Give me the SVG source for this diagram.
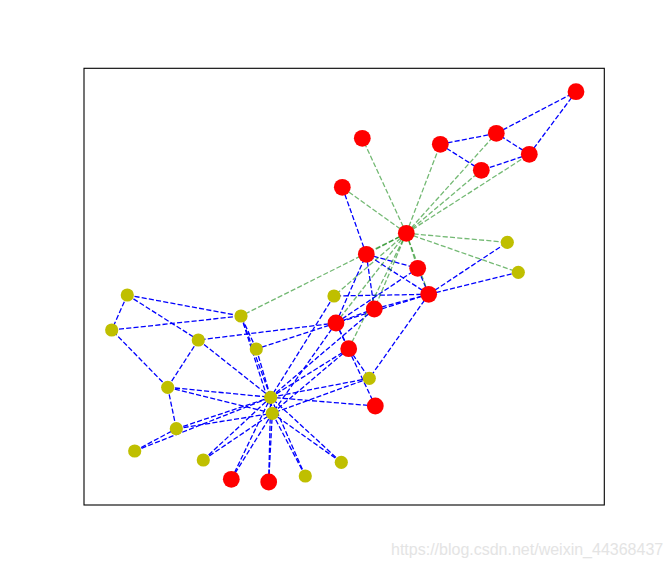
<svg xmlns="http://www.w3.org/2000/svg" width="671" height="567" viewBox="0 0 671 567">
<style>
.b{stroke:#0000ff;stroke-width:1.3;stroke-dasharray:5.1 2.2;fill:none}
.g{stroke:#008000;stroke-opacity:0.55;stroke-width:1.3;stroke-dasharray:5.1 2.2;fill:none}
.r{fill:#ff0000}
.y{fill:#bfbf00}
.wm{font-family:"Liberation Sans",Arial,sans-serif;font-size:16px;fill:#e4e4e4}
</style>
<rect x="0" y="0" width="671" height="567" fill="#ffffff"/>
<rect x="84" y="68.3" width="520.3" height="436.7" fill="none" stroke="#000000" stroke-width="1.1"/>
<g id="edges">
<g id="blue-edges">
<line class="b" x1="428.7" y1="294.3" x2="336" y2="323"/>
<line class="b" x1="428.7" y1="294.3" x2="366.3" y2="254.3"/>
<line class="b" x1="428.7" y1="294.3" x2="417.7" y2="268.3"/>
<line class="b" x1="428.7" y1="294.3" x2="374.3" y2="309"/>
<line class="b" x1="428.7" y1="294.3" x2="507.3" y2="242.3"/>
<line class="b" x1="428.7" y1="294.3" x2="334" y2="296"/>
<line class="b" x1="428.7" y1="294.3" x2="518.3" y2="272.3"/>
<line class="b" x1="428.7" y1="294.3" x2="369.3" y2="378.3"/>
<line class="b" x1="336" y1="323" x2="366.3" y2="254.3"/>
<line class="b" x1="336" y1="323" x2="417.7" y2="268.3"/>
<line class="b" x1="336" y1="323" x2="348.7" y2="348.7"/>
<line class="b" x1="336" y1="323" x2="375.3" y2="406"/>
<line class="b" x1="336" y1="323" x2="374.3" y2="309"/>
<line class="b" x1="336" y1="323" x2="198.3" y2="340"/>
<line class="b" x1="336" y1="323" x2="256.3" y2="349"/>
<line class="b" x1="336" y1="323" x2="272.3" y2="413.3"/>
<line class="b" x1="366.3" y1="254.3" x2="417.7" y2="268.3"/>
<line class="b" x1="366.3" y1="254.3" x2="342.3" y2="187.3"/>
<line class="b" x1="366.3" y1="254.3" x2="374.3" y2="309"/>
<line class="b" x1="440.3" y1="144.3" x2="496.3" y2="133.3"/>
<line class="b" x1="440.3" y1="144.3" x2="481.3" y2="170.3"/>
<line class="b" x1="529.3" y1="154.3" x2="496.3" y2="133.3"/>
<line class="b" x1="529.3" y1="154.3" x2="481.3" y2="170.3"/>
<line class="b" x1="529.3" y1="154.3" x2="576" y2="91.7"/>
<line class="b" x1="496.3" y1="133.3" x2="576" y2="91.7"/>
<line class="b" x1="348.7" y1="348.7" x2="369.3" y2="378.3"/>
<line class="b" x1="348.7" y1="348.7" x2="272.3" y2="413.3"/>
<line class="b" x1="348.7" y1="348.7" x2="270.7" y2="397.3"/>
<line class="b" x1="375.3" y1="406" x2="270.7" y2="397.3"/>
<line class="b" x1="374.3" y1="309" x2="270.7" y2="397.3"/>
<line class="b" x1="231.3" y1="479.3" x2="272.3" y2="413.3"/>
<line class="b" x1="231.3" y1="479.3" x2="270.7" y2="397.3"/>
<line class="b" x1="268.7" y1="482" x2="272.3" y2="413.3"/>
<line class="b" x1="268.7" y1="482" x2="270.7" y2="397.3"/>
<line class="b" x1="203.3" y1="460" x2="272.3" y2="413.3"/>
<line class="b" x1="203.3" y1="460" x2="270.7" y2="397.3"/>
<line class="b" x1="334" y1="296" x2="270.7" y2="397.3"/>
<line class="b" x1="341.3" y1="462.3" x2="272.3" y2="413.3"/>
<line class="b" x1="341.3" y1="462.3" x2="270.7" y2="397.3"/>
<line class="b" x1="305.3" y1="476" x2="272.3" y2="413.3"/>
<line class="b" x1="305.3" y1="476" x2="270.7" y2="397.3"/>
<line class="b" x1="167.7" y1="387.3" x2="111.7" y2="330"/>
<line class="b" x1="167.7" y1="387.3" x2="198.3" y2="340"/>
<line class="b" x1="167.7" y1="387.3" x2="176.3" y2="428.7"/>
<line class="b" x1="167.7" y1="387.3" x2="272.3" y2="413.3"/>
<line class="b" x1="167.7" y1="387.3" x2="270.7" y2="397.3"/>
<line class="b" x1="127.3" y1="295" x2="111.7" y2="330"/>
<line class="b" x1="127.3" y1="295" x2="198.3" y2="340"/>
<line class="b" x1="127.3" y1="295" x2="241" y2="316"/>
<line class="b" x1="111.7" y1="330" x2="241" y2="316"/>
<line class="b" x1="134.7" y1="451" x2="176.3" y2="428.7"/>
<line class="b" x1="134.7" y1="451" x2="270.7" y2="397.3"/>
<line class="b" x1="198.3" y1="340" x2="270.7" y2="397.3"/>
<line class="b" x1="256.3" y1="349" x2="241" y2="316"/>
<line class="b" x1="256.3" y1="349" x2="270.7" y2="397.3"/>
<line class="b" x1="176.3" y1="428.7" x2="272.3" y2="413.3"/>
<line class="b" x1="176.3" y1="428.7" x2="270.7" y2="397.3"/>
<line class="b" x1="369.3" y1="378.3" x2="272.3" y2="413.3"/>
<line class="b" x1="369.3" y1="378.3" x2="270.7" y2="397.3"/>
<line class="b" x1="241" y1="316" x2="272.3" y2="413.3"/>
<line class="b" x1="241" y1="316" x2="270.7" y2="397.3"/>
<line class="b" x1="272.3" y1="413.3" x2="270.7" y2="397.3"/>
</g>
<g id="green-edges">
<line class="g" x1="406.3" y1="233.3" x2="428.7" y2="294.3"/>
<line class="g" x1="406.3" y1="233.3" x2="336" y2="323"/>
<line class="g" x1="406.3" y1="233.3" x2="366.3" y2="254.3"/>
<line class="g" x1="406.3" y1="233.3" x2="440.3" y2="144.3"/>
<line class="g" x1="406.3" y1="233.3" x2="529.3" y2="154.3"/>
<line class="g" x1="406.3" y1="233.3" x2="496.3" y2="133.3"/>
<line class="g" x1="406.3" y1="233.3" x2="417.7" y2="268.3"/>
<line class="g" x1="406.3" y1="233.3" x2="348.7" y2="348.7"/>
<line class="g" x1="406.3" y1="233.3" x2="481.3" y2="170.3"/>
<line class="g" x1="406.3" y1="233.3" x2="362.3" y2="138.3"/>
<line class="g" x1="406.3" y1="233.3" x2="342.3" y2="187.3"/>
<line class="g" x1="406.3" y1="233.3" x2="374.3" y2="309"/>
<line class="g" x1="406.3" y1="233.3" x2="507.3" y2="242.3"/>
<line class="g" x1="406.3" y1="233.3" x2="334" y2="296"/>
<line class="g" x1="406.3" y1="233.3" x2="518.3" y2="272.3"/>
<line class="g" x1="406.3" y1="233.3" x2="241" y2="316"/>
</g>
</g>
<g id="n0"><circle class="r" cx="406.3" cy="233.3" r="8.4"/></g>
<g id="n1"><circle class="r" cx="428.7" cy="294.3" r="8.4"/></g>
<g id="n2"><circle class="r" cx="336" cy="323" r="8.4"/></g>
<g id="n3"><circle class="r" cx="366.3" cy="254.3" r="8.4"/></g>
<g id="n4"><circle class="r" cx="440.3" cy="144.3" r="8.4"/></g>
<g id="n5"><circle class="r" cx="529.3" cy="154.3" r="8.4"/></g>
<g id="n6"><circle class="r" cx="496.3" cy="133.3" r="8.4"/></g>
<g id="n7"><circle class="r" cx="417.7" cy="268.3" r="8.4"/></g>
<g id="n8"><circle class="r" cx="348.7" cy="348.7" r="8.4"/></g>
<g id="n9"><circle class="r" cx="375.3" cy="406" r="8.4"/></g>
<g id="n10"><circle class="r" cx="481.3" cy="170.3" r="8.4"/></g>
<g id="n11"><circle class="r" cx="362.3" cy="138.3" r="8.4"/></g>
<g id="n12"><circle class="r" cx="342.3" cy="187.3" r="8.4"/></g>
<g id="n13"><circle class="r" cx="374.3" cy="309" r="8.4"/></g>
<g id="n14"><circle class="r" cx="231.3" cy="479.3" r="8.4"/></g>
<g id="n15"><circle class="r" cx="268.7" cy="482" r="8.4"/></g>
<g id="n16"><circle class="r" cx="576" cy="91.7" r="8.4"/></g>
<g id="n17"><circle class="y" cx="507.3" cy="242.3" r="6.6"/></g>
<g id="n18"><circle class="y" cx="203.3" cy="460" r="6.6"/></g>
<g id="n19"><circle class="y" cx="334" cy="296" r="6.6"/></g>
<g id="n20"><circle class="y" cx="341.3" cy="462.3" r="6.6"/></g>
<g id="n21"><circle class="y" cx="518.3" cy="272.3" r="6.6"/></g>
<g id="n22"><circle class="y" cx="305.3" cy="476" r="6.6"/></g>
<g id="n23"><circle class="y" cx="167.7" cy="387.3" r="6.6"/></g>
<g id="n24"><circle class="y" cx="127.3" cy="295" r="6.6"/></g>
<g id="n25"><circle class="y" cx="111.7" cy="330" r="6.6"/></g>
<g id="n26"><circle class="y" cx="134.7" cy="451" r="6.6"/></g>
<g id="n27"><circle class="y" cx="198.3" cy="340" r="6.6"/></g>
<g id="n28"><circle class="y" cx="256.3" cy="349" r="6.6"/></g>
<g id="n29"><circle class="y" cx="176.3" cy="428.7" r="6.6"/></g>
<g id="n30"><circle class="y" cx="369.3" cy="378.3" r="6.6"/></g>
<g id="n31"><circle class="y" cx="241" cy="316" r="6.6"/></g>
<g id="n32"><circle class="y" cx="272.3" cy="413.3" r="6.6"/></g>
<g id="n33"><circle class="y" cx="270.7" cy="397.3" r="6.6"/></g>
<text class="wm" x="391" y="555">https://blog.csdn.net/weixin_44368437</text>
</svg>
